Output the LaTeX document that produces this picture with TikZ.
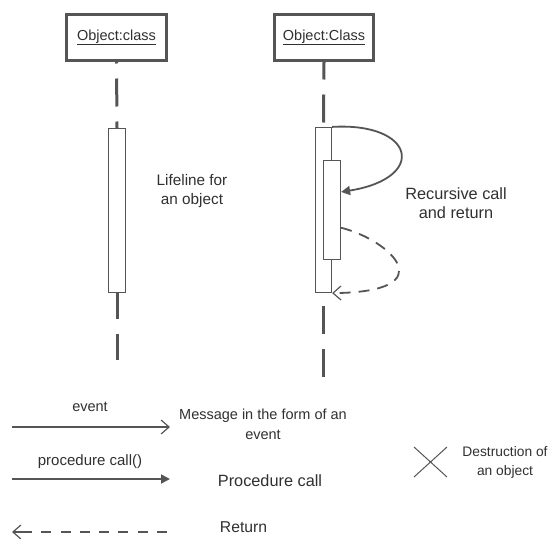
\documentclass[tikz,border=0pt]{standalone}
\usepackage{fontspec}
\setmainfont{Liberation Sans}
\usetikzlibrary{arrows.meta,calc}
\definecolor{ink}{HTML}{555555}
\definecolor{txt}{HTML}{303030}

\begin{document}
\begin{tikzpicture}[x=1pt,y=-1pt,
  objbox/.style={draw=ink, line width=3pt, fill=white, inner sep=0pt,
    minimum height=46pt, text=txt, font=\fontsize{14.5}{17}\selectfont},
  lifeline/.style={draw=ink, line width=3pt, dash pattern=on 28pt off 15pt},
  activation/.style={draw=ink, line width=1.2pt, fill=white, inner sep=0pt},
  msg/.style={draw=ink, line width=1.8pt},
  selfmsg/.style={draw=ink, line width=1.8pt},
  lbl/.style={text=txt, inner sep=0pt, align=center},
  openhead/.tip={Straight Barb[length=8pt,width=14pt,line width=1.2pt]},
  fullhead/.tip={Triangle[length=9pt,width=9pt]},
]
\useasboundingbox (0,0) rectangle (556,538);

% object heads
\node[objbox, minimum width=100pt] (obj1) at (116.5,37.5) {\underline{Object:class}};
\node[objbox, minimum width=99pt]  (obj2) at (324,37.5)  {\underline{Object:Class}};

% activation bars
\node[activation, minimum width=17pt, minimum height=164pt] (act1) at (117,210.5) {};
\node[activation, minimum width=16pt, minimum height=165pt] (act2) at (323.5,210) {};
\node[activation, minimum width=17pt, minimum height=99pt]  (act2i) at (332,210) {};

% lifelines
\coordinate (end1) at (117,360);
\coordinate (end2) at (323.5,377);
\draw[lifeline, dash phase=26.5pt] (obj1.south) -- (act1.north);
\draw[lifeline, dash phase=2.5pt] (act1.south) -- (end1);
\draw[lifeline, dash phase=10.5pt] (obj2.south) -- (act2.north);
\draw[lifeline, dash phase=30pt] (act2.south) -- (end2);

% recursive call and its return
\coordinate (callin) at ($(act2i.north east)!0.32!(act2i.south east)$);
\coordinate (retout) at ($(act2i.north east)!0.677!(act2i.south east)$);
\draw[selfmsg, -{fullhead}] (act2.north east)
  .. controls (415,122) and (428,178) .. (callin);
\draw[selfmsg, dash pattern=on 11pt off 8pt, -{openhead}] (retout)
  .. controls (390,240) and (446,292) .. (act2.south east);

% captions
\node[lbl, font=\fontsize{15.3}{19}\selectfont] (lifelbl) at (192,191)
  {Lifeline for\\an object};
\node[lbl, font=\fontsize{16.3}{19}\selectfont] (reclbl) at (456,203)
  {Recursive call\\and return};

% legend: event message
\coordinate (ev0) at (12,427);
\coordinate (ev1) at (170,427);
\draw[msg, -{openhead}] (ev0) -- (ev1);
\node[lbl, font=\fontsize{14.5}{17}\selectfont] (evlbl) at (90,407) {event};
\node[lbl, font=\fontsize{14.5}{20}\selectfont] (evtxt) at (263,424)
  {Message in the form of an\\event};

% legend: procedure call
\coordinate (pc0) at (12,479);
\coordinate (pc1) at (170,479);
\draw[msg, -{fullhead}] (pc0) -- (pc1);
\node[lbl, font=\fontsize{15}{17}\selectfont] (pclbl) at (90,462) {procedure call()};
\node[lbl, font=\fontsize{16.3}{19}\selectfont] (pctxt) at (270,481) {Procedure call};

% legend: return (short dashes, last stretch solid up to the tip)
\coordinate (rt0) at (167,532);
\coordinate (rt1) at (12,532);
\draw[msg, -{openhead},
  dash pattern=on 10pt off 9.3pt on 10pt off 9.3pt on 10pt off 9.3pt
    on 10pt off 9.3pt on 10pt off 9.3pt on 10pt off 9.3pt
    on 10pt off 9.3pt on 30pt off 10pt] (rt0) -- (rt1);
\node[lbl, font=\fontsize{15.7}{19}\selectfont] (rttxt) at (243.5,527) {Return};

% legend: destruction
\coordinate (x0) at (414,447);
\coordinate (x1) at (447,477);
\draw[draw=ink, line width=1pt] (x0) -- (x1) (x0 |- x1) -- (x1 |- x0);
\node[lbl, font=\fontsize{13.8}{19}\selectfont] (dstxt) at (505,462)
  {Destruction of\\an object};
\end{tikzpicture}
\end{document}
